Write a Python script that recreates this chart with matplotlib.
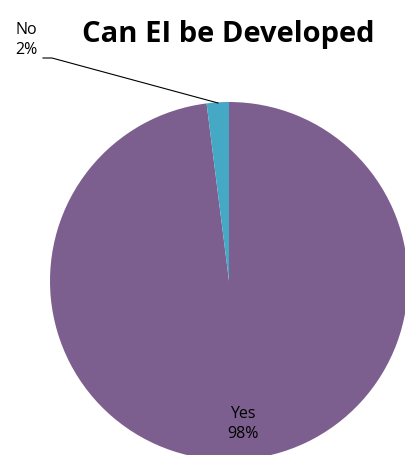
import matplotlib

matplotlib.use("Agg")
import matplotlib.pyplot as plt

categories = ["Yes", "No"]
shares = [98, 2]
colors = ["#7D5F8F", "#45A8C5"]
title = "Can EI be Developed"

W, H = 406, 456
fig = plt.figure(figsize=(W / 100, H / 100), dpi=100)
ax = fig.add_axes([0, 0, 1, 1])

ax.pie(
    shares,
    colors=colors,
    startangle=90,
    counterclock=False,
    center=(229, H - 282),
    radius=179,
    wedgeprops={"linewidth": 0},
    frame=True,
)
ax.set_xlim(0, W)
ax.set_ylim(0, H)
ax.set_aspect("equal")
ax.axis("off")

ax.text(228, H - 34, title, ha="center", va="center", fontsize=21,
        fontweight="bold", family="Open Sans", color="black")

ax.text(243, H - 424, f"{categories[0]}\n{shares[0]}%", ha="center", va="center",
        fontsize=11.5, family="Open Sans", linespacing=1.4)
ax.text(26, H - 40, f"{categories[1]}\n{shares[1]}%", ha="center", va="center",
        fontsize=11.5, family="Open Sans", linespacing=1.4)
ax.plot([43, 52, 218], [H - 59, H - 59, H - 104], color="black", linewidth=0.8)

fig.savefig("out.png", dpi=100)
